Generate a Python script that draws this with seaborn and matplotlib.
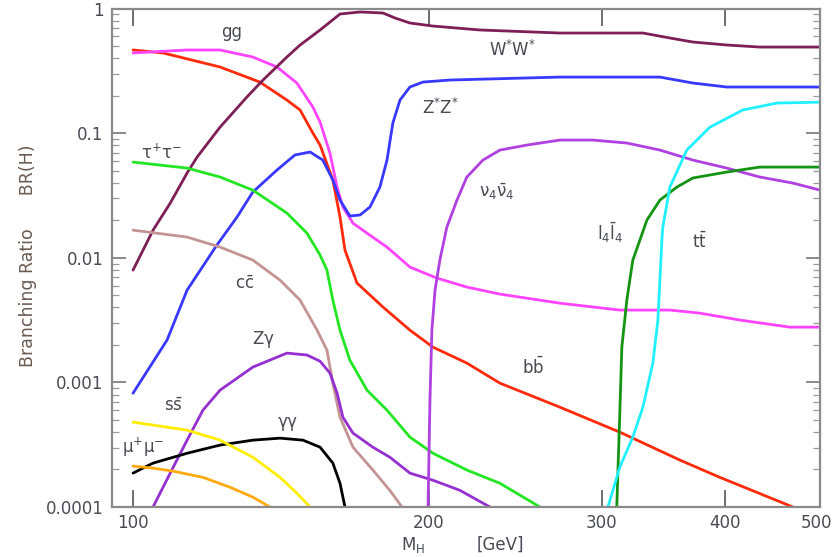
import matplotlib
matplotlib.use("Agg")
import matplotlib.pyplot as plt
import matplotlib.transforms as mtransforms
import seaborn as sns
import pandas as pd
import numpy as np
from matplotlib.ticker import FixedLocator, NullLocator, NullFormatter

# ---------------- data ----------------
bb_M  = [100, 107.3, 122.6, 134.6, 143.4, 147.9, 152.4, 155.0, 159.7, 162.4, 164.3, 169.0, 179.6, 191.3, 201.9, 218.6, 236.2, 271.8, 312.8, 360.1, 395.4, 469.1]
bb_BR = [0.467, 0.442, 0.341, 0.258, 0.185, 0.154, 0.1005, 0.0805, 0.0422, 0.0213, 0.01155, 0.00628, 0.00403, 0.00263, 0.00192, 0.00143, 0.000987, 0.000633, 0.000399, 0.000238, 0.000173, 0.0001]

gg_M  = [100, 113.5, 122.6, 132.4, 140.1, 146.8, 152.4, 155.0, 158.6, 161.3, 163.5, 167.4, 173.0, 181.3, 191.3, 203.8, 218.6, 236.2, 271.8, 312.8, 351.7, 377.3, 414.3, 465.8, 500]
gg_BR = [0.442, 0.467, 0.467, 0.410, 0.341, 0.2535, 0.1626, 0.123, 0.0695, 0.0370, 0.0256, 0.0190, 0.0158, 0.0122, 0.00844, 0.00688, 0.00583, 0.00512, 0.00433, 0.00381, 0.00381, 0.00360, 0.00317, 0.00278, 0.00278]

ww_M  = [100, 104.8, 109.1, 113.5, 116.2, 122.6, 130.6, 135.6, 143.4, 147.9, 155.0, 162.4, 170.2, 179.6, 184.7, 191.3, 201.9, 225.4, 271.8, 330.2, 351.7, 371.2, 401.9, 434.2, 500]
ww_BR = [0.00798, 0.0167, 0.0275, 0.048, 0.0645, 0.112, 0.196, 0.268, 0.410, 0.512, 0.676, 0.908, 0.943, 0.925, 0.844, 0.769, 0.727, 0.676, 0.639, 0.639, 0.583, 0.541, 0.512, 0.493, 0.493]

zz_M  = [100, 108.3, 113.5, 121.7, 127.6, 132.4, 140.1, 146.1, 151.4, 156.0, 159.7, 162.4, 166.2, 170.2, 174.2, 178.3, 181.3, 183.8, 186.9, 191.3, 197.2, 210.1, 271.8, 343.6, 371.2, 401.9, 500]
zz_BR = [0.00082, 0.00219, 0.00551, 0.01267, 0.0213, 0.0338, 0.0507, 0.067, 0.0708, 0.061, 0.0422, 0.0291, 0.0217, 0.0221, 0.0256, 0.037, 0.061, 0.121, 0.185, 0.2355, 0.258, 0.268, 0.283, 0.283, 0.2535, 0.2355, 0.2355]

tau_M  = [100, 113.5, 122.6, 132.4, 143.4, 150.3, 155.0, 157.5, 159.7, 162.4, 166.2, 173.0, 181.3, 191.3, 201.9, 218.6, 236.2, 259.4]
tau_BR = [0.0588, 0.0526, 0.0446, 0.0350, 0.0229, 0.0158, 0.01053, 0.00798, 0.00458, 0.00263, 0.00151, 0.000867, 0.000599, 0.000364, 0.00027, 0.000198, 0.000155, 0.0001]

cc_M  = [100, 113.5, 122.6, 132.4, 141.1, 147.9, 153.9, 157.5, 159.7, 162.4, 167.4, 175.4, 182.5, 187.8]
cc_BR = [0.0167, 0.01469, 0.01222, 0.0096, 0.00663, 0.00458, 0.00263, 0.00182, 0.000987, 0.000526, 0.000302, 0.000198, 0.000136, 0.0001]

zg_M  = [104.8, 109.1, 113.5, 117.8, 122.6, 132.4, 143.4, 150.3, 155.0, 158.6, 161.3, 163.5, 167.4, 175.4, 182.5, 191.3, 201.9, 215.1, 230.7]
zg_BR = [0.0001, 0.000187, 0.000344, 0.000599, 0.000867, 0.001327, 0.00172, 0.00166, 0.00148, 0.00119, 0.00082, 0.000526, 0.000392, 0.000302, 0.000251, 0.000187, 0.000164, 0.000136, 0.0001]

aa_M  = [100, 104.8, 113.5, 122.6, 132.4, 141.1, 148.9, 155.0, 159.7, 162.4, 164.3]
aa_BR = [0.000187, 0.000225, 0.00027, 0.000314, 0.000344, 0.000357, 0.000344, 0.000302, 0.000225, 0.000155, 0.0001]

ss_M  = [100, 113.5, 122.6, 132.4, 141.1, 146.8, 151.4]
ss_BR = [0.00048, 0.000414, 0.000344, 0.000251, 0.000173, 0.000129, 0.0001]

mu_M  = [100, 104.8, 109.8, 117.8, 125.5, 132.4, 137.8]
mu_BR = [0.000213, 0.000205, 0.000194, 0.000173, 0.000144, 0.00012, 0.0001]

nu_M  = [199.6, 200.5, 201.4, 202.9, 205.2, 208.6, 213.6, 218.6, 227.0, 236.2, 251.6, 271.8, 293.7, 318.0, 343.6, 371.2, 401.9, 434.2, 469.1, 500]
nu_BR = [0.0001, 0.000721, 0.00263, 0.00551, 0.0096, 0.01768, 0.0291, 0.0446, 0.061, 0.0734, 0.0805, 0.0883, 0.0883, 0.0836, 0.0734, 0.061, 0.0526, 0.0446, 0.0399, 0.035]

l4_M  = [310.6, 312.8, 314.3, 318.0, 320.2, 322.5, 333.3, 343.6, 357.5, 371.2, 401.9, 434.2, 500]
l4_BR = [0.0001, 0.000567, 0.00192, 0.00458, 0.00663, 0.0096, 0.0201, 0.0291, 0.037, 0.0438, 0.0489, 0.0536, 0.0536]

tt_M  = [304.2, 312.8, 322.5, 330.2, 338.0, 342.0, 343.6, 345.2, 346.0, 351.7, 366.0, 386.2, 417.2, 451.9, 500]
tt_BR = [0.0001, 0.000209, 0.000364, 0.000633, 0.00143, 0.00317, 0.00663, 0.0139, 0.01768, 0.037, 0.0734, 0.112, 0.154, 0.175, 0.178]

x_ticks = [100, 200, 300, 400, 500]
x_tick_labels = ["100", "200", "300", "400", "500"]
y_ticks = [1e-4, 1e-3, 1e-2, 1e-1, 1]
y_tick_labels = ["0.0001", "0.001", "0.01", "0.1", "1"]
y_minor = [m * 10.0 ** e for e in range(-4, 0) for m in range(2, 10)]

channels = {
    "bb": (bb_M, bb_BR, "#ff2a0a"),
    "gg": (gg_M, gg_BR, "#ff44ff"),
    "WW": (ww_M, ww_BR, "#7d1f56"),
    "ZZ": (zz_M, zz_BR, "#3838ff"),
    "tautau": (tau_M, tau_BR, "#22e622"),
    "cc": (cc_M, cc_BR, "#c49494"),
    "Zgamma": (zg_M, zg_BR, "#9530d0"),
    "gammagamma": (aa_M, aa_BR, "#000000"),
    "ss": (ss_M, ss_BR, "#ffee00"),
    "mumu": (mu_M, mu_BR, "#ffaa10"),
    "nu4nu4": (nu_M, nu_BR, "#b040e0"),
    "l4l4": (l4_M, l4_BR, "#139413"),
    "tt": (tt_M, tt_BR, "#20f0ff"),
}

rows = []
for name, (ms, brs, _) in channels.items():
    for m, b in zip(ms, brs):
        rows.append({"M": m, "BR": b, "channel": name})
df = pd.DataFrame(rows)
palette = {k: v[2] for k, v in channels.items()}

# ---------------- style ----------------
sns.set_style("ticks", {"xtick.direction": "in", "ytick.direction": "in"})
plt.rcParams["font.family"] = ["DejaVu Sans"]
plt.rcParams["mathtext.fontset"] = "dejavusans"
plt.rcParams["mathtext.default"] = "regular"
plt.rcParams["xtick.top"] = True
plt.rcParams["xtick.bottom"] = True
plt.rcParams["ytick.left"] = True
plt.rcParams["ytick.right"] = True

fig = plt.figure(figsize=(8.33, 5.57), dpi=100)
ax = fig.add_axes([0.1345, 0.0898, 0.9844 - 0.1345, 0.9842 - 0.0898])

sns.lineplot(data=df, x="M", y="BR", hue="channel", palette=palette,
             units="channel", estimator=None, sort=False, linewidth=2.0,
             legend=False, ax=ax)

ax.set_xscale("log")
ax.set_yscale("log")
ax.set_xlim(95.2, 500)
ax.set_ylim(1e-4, 1)

txtc = "#4a4a55"
ax.xaxis.set_major_locator(FixedLocator(x_ticks))
ax.xaxis.set_minor_locator(NullLocator())
ax.set_xticklabels(x_tick_labels, fontsize=12, color=txtc)
ax.yaxis.set_major_locator(FixedLocator(y_ticks))
ax.yaxis.set_minor_locator(FixedLocator(y_minor))
ax.yaxis.set_minor_formatter(NullFormatter())
ax.set_yticklabels(y_tick_labels, fontsize=12, color=txtc)

ax.tick_params(axis="x", which="major", direction="in", length=12, width=1.2,
               top=True, bottom=True, colors="#555555", labelcolor=txtc, pad=5)
ax.tick_params(axis="y", which="major", direction="in", length=10, width=1.2,
               left=True, right=True, colors="#777777", labelcolor=txtc, pad=6)
ax.tick_params(axis="y", which="minor", direction="in", length=5, width=0.9,
               left=True, right=True, colors="#999999")
for s in ax.spines.values():
    s.set_color("#8a8a8a")
    s.set_linewidth(1.6)

# keep the last x tick label inside the picture
last = ax.get_xticklabels()[-1]
last.set_transform(last.get_transform() +
                   mtransforms.ScaledTranslation(-4 / 100, 0, fig.dpi_scale_trans))

ax.set_xlabel("")
ax.set_ylabel("")

# axis titles
fig.text(28 / 833, 1 - 256 / 557, "Branching Ratio      BR(H)", rotation=90,
         ha="center", va="center", fontsize=12.5, color="#6a5a50")
fig.text(413 / 833, 1 - 545 / 557, r"M$_\mathrm{H}$", ha="center", va="center",
         fontsize=12, color=txtc)
fig.text(500 / 833, 1 - 545 / 557, "[GeV]", ha="center", va="center",
         fontsize=12, color=txtc)

# curve labels (positions in pixel coordinates of the reference)
labels = [
    ("gg", 232, 32),
    (r"$\mathrm{W^{*}W^{*}}$", 513, 50),
    (r"$\mathrm{Z^{*}Z^{*}}$", 440, 108),
    (r"$\mathrm{\tau^{+}\tau^{-}}$", 162, 153),
    (r"$\mathrm{c\bar{c}}$", 245, 284),
    (r"$\mathrm{Z\gamma}$", 263, 340),
    (r"$\mathrm{s\bar{s}}$", 173, 406),
    (r"$\mathrm{\mu^{+}\mu^{-}}$", 143, 447),
    (r"$\mathrm{\gamma\gamma}$", 288, 424),
    (r"$\mathrm{b\bar{b}}$", 533, 367),
    (r"$\mathrm{\nu_4\bar{\nu}_4}$", 497, 192),
    (r"$\mathrm{l_4\bar{l}_4}$", 610, 233),
    (r"$\mathrm{t\bar{t}}$", 700, 242),
]
for t, px, py in labels:
    fig.text(px / 833, 1 - py / 557, t, ha="center", va="center",
             fontsize=12, color=txtc)

fig.savefig("out.png", dpi=100)
